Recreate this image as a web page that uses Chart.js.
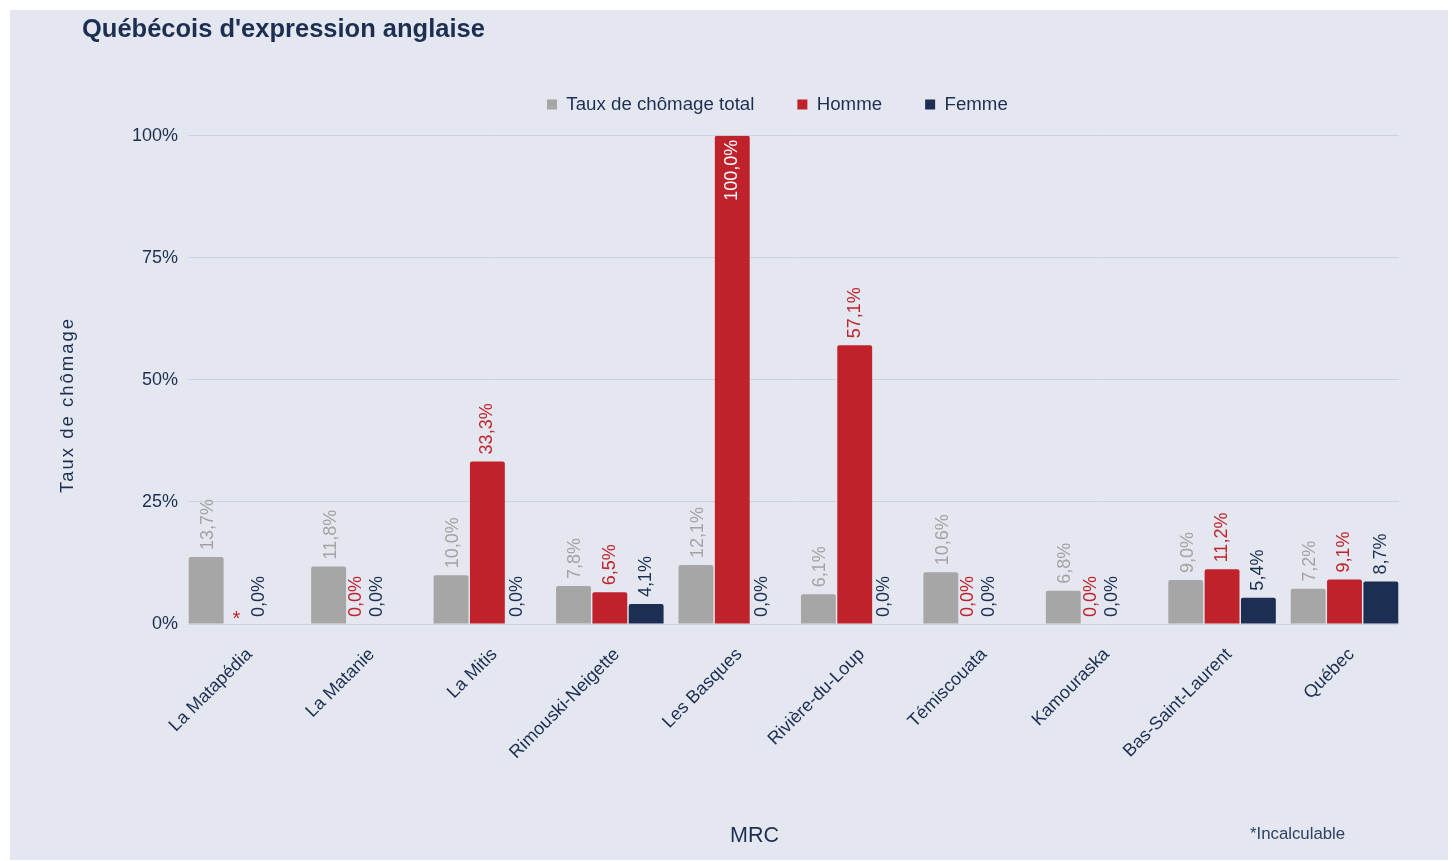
<!DOCTYPE html>
<html lang="fr">
<head>
<meta charset="utf-8">
<title>Québécois d'expression anglaise</title>
<script src="https://cdn.jsdelivr.net/npm/chart.js@4.4.1/dist/chart.umd.min.js"></script>
<style>
  html, body { margin: 0; background: #fff; }
  #wrap { position: absolute; left: 10px; top: 10px; width: 1438px; height: 850px; background: #e4e7ef; }
  canvas { display: block; }
</style>
</head>
<body>
<div id="wrap"><canvas id="chart" width="1438" height="850"></canvas></div>
<script>
// --- data ------------------------------------------------------------------
const CATEGORIES = ["La Matapédia", "La Matanie", "La Mitis", "Rimouski-Neigette", "Les Basques",
  "Rivière-du-Loup", "Témiscouata", "Kamouraska", "Bas-Saint-Laurent", "Québec"];
const TOTAL = [13.7, 11.8, 10.0, 7.8, 12.1, 6.1, 10.6, 6.8, 9.0, 7.2];
const HOMME = [null, 0, 33.3, 6.5, 100, 57.1, 0, 0, 11.2, 9.1]; // null = incalculable
const FEMME = [0, 0, 0, 4.1, 0, 0, 0, 0, 5.4, 8.7];
const SERIES = ["Taux de chômage total", "Homme", "Femme"];
const Y_TICKS = [0, 25, 50, 75, 100];

const TITLE = "Québécois d'expression anglaise";
const Y_TITLE = "Taux de chômage";
const X_TITLE = "MRC";
const NOTE = "*Incalculable";

// --- style -----------------------------------------------------------------
const FONT = "'Liberation Sans', Arial, Helvetica, sans-serif";
const C = { gray: "#a6a6a6", grayText: "#a3a3a3", red: "#c0222c", navy: "#1c2f52", grid: "#ced3dc", note: "#2e4163" };
const BAR_COLORS = [C.gray, C.red, C.navy];
const LABEL_COLORS = [C.grayText, C.red, C.navy];
const X_EDGE = 0.445;    // fraction of a category left empty at each end
const LEGEND_GAP = 11.75;
const LEGEND_X = 537;    // left of first legend box

const fmt = (v) => v.toFixed(1).replace(".", ",") + "%";

// extra room under the legend, and legend placed from a fixed left edge
const legendPlace = {
  id: "legendPlace",
  beforeInit(chart) {
    if (!chart.legend) return;
    const fit = chart.legend.fit;
    chart.legend.fit = function () {
      fit.call(this);
      this.height += LEGEND_GAP;
    };
  },
  afterLayout(chart) {
    const lg = chart.legend;
    if (!lg) return;
    const w = lg.right - lg.left;
    lg.left = LEGEND_X - lg.options.labels.padding;
    lg.right = lg.left + w;
  },
};

// rotated value labels above bars
const valueLabels = {
  id: "valueLabels",
  afterDatasetsDraw(chart) {
    const ctx = chart.ctx;
    const y0 = chart.scales.y.getPixelForValue(0);
    ctx.save();
    ctx.font = `18px ${FONT}`;
    chart.data.datasets.forEach((ds, di) => {
      const meta = chart.getDatasetMeta(di);
      meta.data.forEach((bar, i) => {
        const v = ds.data[i];
        if (v == null) {
          ctx.save();
          ctx.font = `20px ${FONT}`;
          ctx.fillStyle = LABEL_COLORS[di];
          ctx.textAlign = "center";
          ctx.textBaseline = "alphabetic";
          ctx.fillText("*", bar.x - 6, y0 + 1);
          ctx.restore();
          return;
        }
        let x = bar.x;
        if (v === 0) {
          if (di === 1) x -= 9;
          else if (di === 2) x -= (HOMME[i] === 0 ? 24 : HOMME[i] == null ? 20 : 7);
        } else if (di === 0) {
          x += 2;
        }
        const inside = v >= 90;
        ctx.save();
        ctx.translate(x, inside ? bar.y + 4 : bar.y - 7);
        ctx.rotate(-Math.PI / 2);
        ctx.textBaseline = "middle";
        ctx.textAlign = inside ? "right" : "left";
        ctx.fillStyle = inside ? "#ffffff" : LABEL_COLORS[di];
        ctx.fillText(fmt(v), 0, 0);
        ctx.restore();
      });
    });
    ctx.restore();
  },
};

// title, axis titles and footnote
const overlayText = {
  id: "overlayText",
  afterDraw(chart) {
    const ctx = chart.ctx;
    ctx.save();
    ctx.textBaseline = "alphabetic";
    ctx.fillStyle = C.navy;
    ctx.font = `bold 25.5px ${FONT}`;
    ctx.textAlign = "left";
    ctx.fillText(TITLE, 72, 26.7);

    ctx.font = `21.5px ${FONT}`;
    ctx.textAlign = "center";
    ctx.fillText(X_TITLE, 744.5, 831.7);

    ctx.font = `16.8px ${FONT}`;
    ctx.fillStyle = C.note;
    ctx.textAlign = "left";
    ctx.fillText(NOTE, 1240, 829);

    ctx.translate(63.3, 396);
    ctx.rotate(-Math.PI / 2);
    ctx.font = `18.5px ${FONT}`;
    ctx.fillStyle = C.navy;
    ctx.letterSpacing = "2px";
    ctx.textAlign = "center";
    ctx.fillText(Y_TITLE, 1, 0);
    ctx.letterSpacing = "0px";
    ctx.restore();
  },
};

new Chart(document.getElementById("chart"), {
  type: "bar",
  data: {
    labels: CATEGORIES,
    datasets: [TOTAL, HOMME, FEMME].map((d, i) => ({
      label: SERIES[i],
      data: d,
      backgroundColor: BAR_COLORS[i],
      borderWidth: 0,
      borderRadius: 2,
      categoryPercentage: 0.89,
      barPercentage: 0.96,
    })),
  },
  options: {
    responsive: false,
    animation: false,
    layout: { padding: { top: 42.25, left: 40, right: 49, bottom: 0 } },
    plugins: {
      legend: {
        position: "top",
        align: "start",
        labels: { boxWidth: 10, boxHeight: 10, padding: 43, color: C.navy, font: { family: FONT, size: 18.7 } },
      },
      title: { display: false },
      tooltip: { enabled: false },
    },
    scales: {
      x: {
        grid: { display: false, drawTicks: false },
        border: { display: false },
        ticks: {
          color: C.navy, font: { family: FONT, size: 18 },
          minRotation: 45, maxRotation: 45, padding: 20, labelOffset: 7, autoSkip: false,
        },
        afterBuildTicks(s) {
          s._startValue = -X_EDGE;
          s._valueRange = CATEGORIES.length - 1 + 2 * X_EDGE;
        },
        afterFit(s) { s.height = 236; },
      },
      y: {
        min: 0,
        max: 100,
        grid: { color: C.grid, drawTicks: false },
        border: { display: false },
        ticks: { color: C.navy, font: { family: FONT, size: 18 }, padding: 10, callback: (v) => v + "%" },
        afterBuildTicks(s) { s.ticks = Y_TICKS.map((v) => ({ value: v })); },
        afterFit(s) { s.width = 138; },
      },
    },
  },
  plugins: [legendPlace, valueLabels, overlayText],
});
</script>
</body>
</html>
